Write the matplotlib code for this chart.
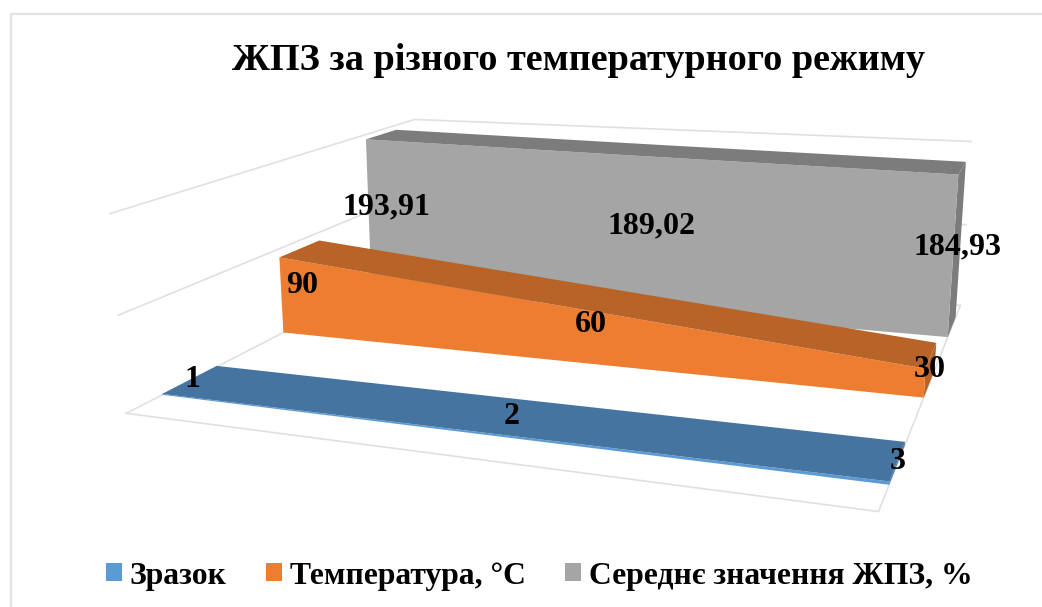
import numpy as np
import matplotlib
matplotlib.use('Agg')
import matplotlib.pyplot as plt
from matplotlib.patches import Polygon, Patch

plt.rcParams['font.family'] = ['Liberation Serif', 'DejaVu Serif']

samples = [1, 2, 3]
temperature = [90, 60, 30]
mean_gsi = [193.91, 189.02, 184.93]
series_names = ['Зразок', 'Температура, °C', 'Середнє значення ЖПЗ, %']
value_labels = [['1', '2', '3'], ['90', '60', '30'], ['193,91', '189,02', '184,93']]
title = 'ЖПЗ за різного температурного режиму'
grid_values = [0, 100, 200]

front_colors = ['#5b9bd5', '#ed7d31', '#a5a5a5']
top_colors = ['#44749f', '#b86327', '#7c7c7c']
depths = [(0.09, 0.24), (0.45, 0.59), (0.785, 0.915)]
label_depths = [0.17, 0.52, 0.86]

# camera for the 3d box: (x, depth, value) -> canvas position, fitted on the box corners
box_3d = np.array([[0, 0, 0], [1, 0, 0], [1, 1, 0], [0, 1, 0], [0, 0, 200],
                   [0, 1, 200], [1, 1, 200], [0, 0, 100], [0, 1, 100]], float)
box_2d = np.array([[126, 413], [878, 513], [960, 303], [420, 264], [112, 212],
                   [413, 119], [972, 143], [117, 316], [417, 192]], float)
rows, rhs = [], []
for (a, b, c), (u, v) in zip(box_3d, box_2d):
    rows.append([a, b, c, 1, 0, 0, 0, 0, -u * a, -u * b, -u * c])
    rows.append([0, 0, 0, 0, a, b, c, 1, -v * a, -v * b, -v * c])
    rhs += [u, v]
cam = np.append(np.linalg.lstsq(np.array(rows), np.array(rhs), rcond=None)[0], 1).reshape(3, 4)


def project(x, d, z):
    p = cam @ np.array([x, d, z, 1.0])
    return p[0] / p[2], p[1] / p[2]


fig = plt.figure(figsize=(10.42, 6.07), dpi=100)
ax = fig.add_axes([0, 0, 1, 1])
ax.set_xlim(0, 1042)
ax.set_ylim(607, 0)
ax.axis('off')

# outer chart frame
ax.plot([1042, 11, 11], [14, 14, 607], color='#e2e2e2', lw=1.6, zorder=1)

# walls and floor
grid_color = '#e0e0e0'
for g in grid_values:
    pts = [project(0, 0, g), project(0, 1, g), project(1, 1, g)]
    ax.plot(*zip(*pts), color=grid_color, lw=1.2, zorder=1)
floor = [project(0, 0, 0), project(1, 0, 0), project(1, 1, 0)]
ax.plot(*zip(*floor), color=grid_color, lw=1.2, zorder=1)

series = [samples, temperature, mean_gsi]
xs = np.linspace(0, 1, len(samples))
z = 2
for i in [2, 1, 0]:
    vals = series[i]
    d0, d1 = depths[i]
    front = [project(x, d0, 0) for x in xs] + [project(x, d0, v) for x, v in zip(xs[::-1], vals[::-1])]
    top = [project(x, d0, v) for x, v in zip(xs, vals)] + [project(x, d1, v) for x, v in zip(xs[::-1], vals[::-1])]
    side = [project(1, d0, 0), project(1, d1, 0), project(1, d1, vals[-1]), project(1, d0, vals[-1])]
    ax.add_patch(Polygon(side, fc=top_colors[i], ec='none', zorder=z))
    ax.add_patch(Polygon(front, fc=front_colors[i], ec='none', zorder=z))
    ax.add_patch(Polygon(top, fc=top_colors[i], ec='none', zorder=z))
    z += 1

# value labels sit on the middle of each slab
for i in range(3):
    for x, v, s in zip(xs, series[i], value_labels[i]):
        px, py = project(x, label_depths[i], v * 0.5)
        ax.text(px, py, s, ha='center', va='center', fontsize=23, fontweight='bold',
                color='black', zorder=10)

ax.text(578.5, 61, title, ha='center', va='center', fontsize=27.5, fontweight='bold', color='black')

handles = [Patch(fc=c, ec='none') for c in front_colors]
ax.legend(handles, series_names, ncol=3, loc='center', bbox_to_anchor=(0.5175, 0.051),
          frameon=False, handlelength=0.5, handleheight=0.5, handletextpad=0.25, columnspacing=1.25,
          prop={'size': 22.8, 'weight': 'bold'})

fig.savefig('out.png', dpi=100)
